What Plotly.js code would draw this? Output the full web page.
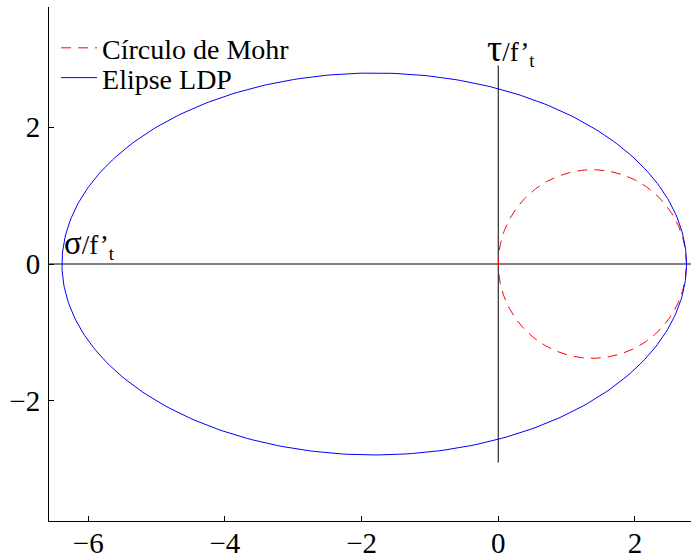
<!DOCTYPE html>
<html>
<head>
<meta charset="utf-8">
<script src="https://cdn.plot.ly/plotly-3.0.1.min.js"></script>
<style>
  html, body { margin: 0; padding: 0; background: #fff; }
  #chart { width: 691px; height: 558px; }
</style>
</head>
<body>
<div id="chart"></div>
<script>
// LDP failure ellipse: centre and semi-axes, in units of f't
const ellipseCenter = [-1.815, 0];
const ellipseSemiAxes = [4.57, 2.79];
// Mohr circle: sigma extremes (sigma_3, sigma_1) on the horizontal axis
const mohrSigma = [0, 2.755];
// reference axes drawn through the origin
const sigmaAxisX = [-6.58, 2.83];
const tauAxisY = [-2.9, 2.9];
// tick positions
const xTicks = [-6, -4, -2, 0, 2];
const yTicks = [-2, 0, 2];

const nSeg = 360;
function ellipsePoints(cx, cy, rx, ry) {
  const xs = [], ys = [];
  for (let i = 0; i <= nSeg; i++) {
    const t = 2 * Math.PI * i / nSeg;
    xs.push(cx + rx * Math.cos(t));
    ys.push(cy + ry * Math.sin(t));
  }
  return { xs, ys };
}

const ell = ellipsePoints(ellipseCenter[0], ellipseCenter[1], ellipseSemiAxes[0], ellipseSemiAxes[1]);
const cR = (mohrSigma[1] - mohrSigma[0]) / 2;
const cC = (mohrSigma[1] + mohrSigma[0]) / 2;
const circ = ellipsePoints(cC, 0, cR, cR);

const serif = "'Liberation Serif', 'Times New Roman', serif";
const minus = v => v < 0 ? '\u2212' + Math.abs(v) : String(v);

const traces = [
  { x: sigmaAxisX, y: [0, 0], mode: 'lines', line: { color: '#000', width: 1 },
    showlegend: false, hoverinfo: 'skip' },
  { x: [0, 0], y: tauAxisY, mode: 'lines', line: { color: '#000', width: 1 },
    showlegend: false, hoverinfo: 'skip' },
  { x: circ.xs, y: circ.ys, mode: 'lines', name: 'Círculo de Mohr',
    line: { color: '#ff0000', width: 1, dash: '10px,7px' }, legend: 'legend' },
  { x: ell.xs, y: ell.ys, mode: 'lines', name: 'Elipse LDP',
    line: { color: '#0000ff', width: 1 }, legend: 'legend2' }
];

const legendCommon = {
  bgcolor: 'rgba(0,0,0,0)', borderwidth: 0,
  font: { family: serif, size: 28, color: '#000' },
  xref: 'paper', yref: 'paper', xanchor: 'left', yanchor: 'middle',
  itemwidth: 36
};

const axisCommon = {
  showline: true, linecolor: '#000', linewidth: 1,
  ticks: 'inside', ticklen: 5, tickcolor: '#000', tickwidth: 1,
  showgrid: false, zeroline: false, fixedrange: true,
  tickfont: { family: serif, size: 29, color: '#000' }
};

const layout = {
  width: 691, height: 558,
  margin: { l: 49, r: 0, t: 7, b: 37 },
  paper_bgcolor: '#fff', plot_bgcolor: '#fff',
  font: { family: serif, size: 28, color: '#000' },
  xaxis: Object.assign({
    range: [-6.575, 2.821], tickvals: xTicks, ticktext: xTicks.map(minus),
    ticklabelstandoff: -4
  }, axisCommon),
  yaxis: Object.assign({
    range: [-3.755, 3.755], tickvals: yTicks, ticktext: yTicks.map(minus),
    ticklabelstandoff: 2
  }, axisCommon),
  legend: Object.assign({ x: 0.011, y: 0.92 }, legendCommon),
  legend2: Object.assign({ x: 0.011, y: 0.862 }, legendCommon),
  annotations: [
    { x: -6.39, y: 0, xref: 'x', yref: 'y', xanchor: 'left', yanchor: 'bottom', showarrow: false,
      text: '<span style="font-size:33px">σ</span>/f’<sub>t</sub>',
      font: { family: serif, size: 27, color: '#000' }, yshift: -2 },
    { x: -0.2, y: 2.9, xref: 'x', yref: 'y', xanchor: 'left', yanchor: 'bottom', showarrow: false,
      text: '<span style="font-size:38px">τ</span>/f’<sub>t</sub>',
      font: { family: serif, size: 27, color: '#000' }, yshift: -7 }
  ],
  showlegend: true
};

Plotly.newPlot('chart', traces, layout, { staticPlot: true, displayModeBar: false });
</script>
</body>
</html>
